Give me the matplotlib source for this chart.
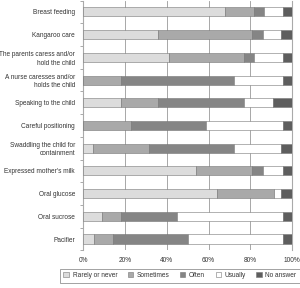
import matplotlib
matplotlib.use("Agg")
import matplotlib.pyplot as plt
import numpy as np

plt.rcParams["font.family"] = ["Liberation Sans", "DejaVu Sans"]

categories = ["Breast feeding", "Kangaroo care", "The parents caress and/or\nhold the child",
              "A nurse caresses and/or\nholds the child", "Speaking to the child",
              "Careful positioning", "Swaddling the child for\ncontainment",
              "Expressed mother's milk", "Oral glucose", "Oral sucrose", "Pacifier"]
series_names = ["Rarely or never", "Sometimes", "Often", "Usually", "No answer"]
rarely    = [68.0, 35.9, 41.2, 0.0, 18.0, 0.0, 4.4, 54.0, 64.2, 9.0, 5.2]
sometimes = [13.8, 45.1, 35.9, 18.0, 18.0, 23.0, 27.0, 27.1, 27.2, 9.1, 8.8]
often     = [4.8, 5.0, 4.5, 54.2, 41.1, 36.0, 40.9, 5.1, 0.0, 26.9, 36.0]
usually   = [8.9, 9.0, 13.9, 23.3, 13.6, 36.5, 22.7, 9.3, 3.6, 50.5, 45.5]
no_answer = [4.5, 5.0, 4.5, 4.5, 9.3, 4.5, 5.0, 4.5, 5.0, 4.5, 4.5]
colors = ["#dcdcdc", "#a9a9a9", "#858585", "#ffffff", "#5e5e5e"]

fs = 4.7
fig = plt.figure(figsize=(3.0, 2.88), dpi=100)
ax = fig.add_axes([0.278, 0.1306, 0.695, 0.8674])
y = np.arange(len(categories))
left = np.zeros(len(categories))
for name, vals, c in zip(series_names, [rarely, sometimes, often, usually, no_answer], colors):
    vals = np.array(vals)
    ax.barh(y, vals, left=left, height=0.4, color=c, edgecolor="#777777", linewidth=0.4,
            label=name, zorder=3)
    left += vals

ax.set_ylim(len(categories) - 0.5, -0.5)
ax.set_xlim(0, 100)
ax.set_yticks(y)
ax.set_yticklabels(categories, fontsize=fs, color="#333333", ha="right", linespacing=1.25)
ax.tick_params(axis="y", length=0, pad=6)
ax.set_yticks(np.arange(-0.5, len(categories), 1), minor=True)
ax.tick_params(axis="y", which="minor", length=2.5, color="#888888", width=0.5)
ax.set_xticks([0, 20, 40, 60, 80, 100])
ax.set_xticklabels(["0%", "20%", "40%", "60%", "80%", "100%"], fontsize=fs, color="#333333")
ax.tick_params(axis="x", length=0, pad=5)
ax.grid(axis="x", color="#999999", linewidth=0.6, zorder=0)
for s in ["top", "bottom"]:
    ax.spines[s].set_visible(False)
for s in ["left", "right"]:
    ax.spines[s].set_color("#aaaaaa")
    ax.spines[s].set_linewidth(0.8)

leg = fig.legend(loc="center", bbox_to_anchor=(0.6, 0.0425), ncol=5, fontsize=fs,
                 frameon=True, fancybox=False, edgecolor="#777777", handlelength=0.8,
                 handleheight=0.8, handletextpad=0.6, columnspacing=1.6, borderpad=0.5)
leg.get_frame().set_linewidth(0.6)
for t in leg.get_texts():
    t.set_color("#333333")

fig.savefig("out.png", dpi=100)
